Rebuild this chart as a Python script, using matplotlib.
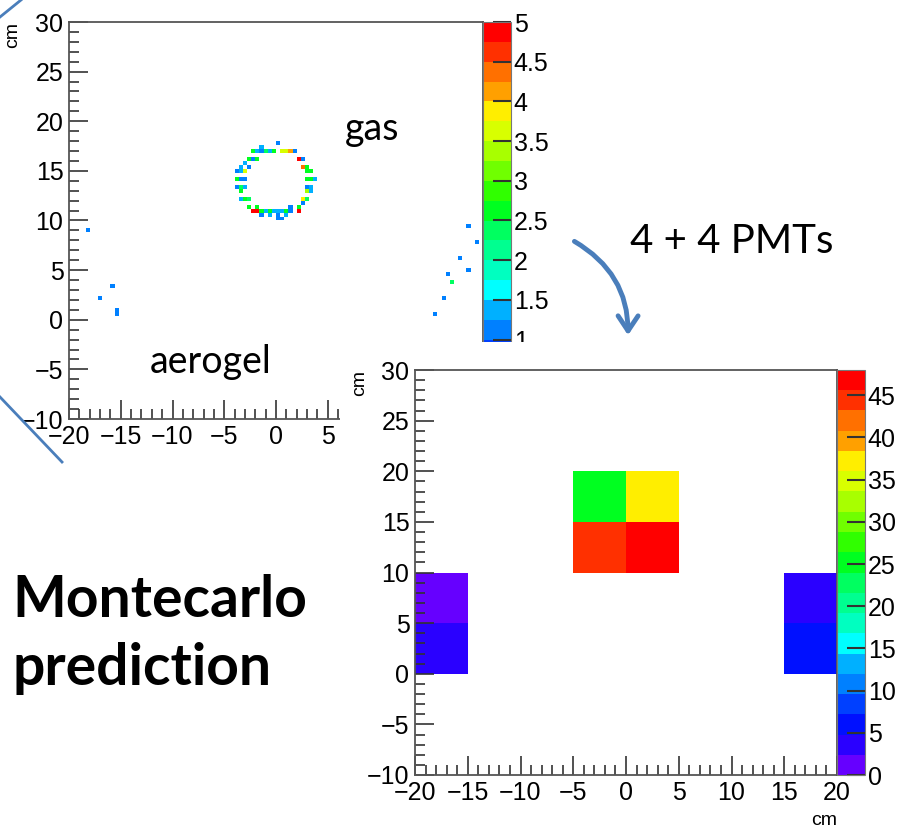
import numpy as np
import matplotlib
matplotlib.use('Agg')
import matplotlib.pyplot as plt
from matplotlib.colors import ListedColormap, BoundaryNorm
from matplotlib.ticker import MultipleLocator, FuncFormatter
from matplotlib.patches import FancyArrowPatch
from matplotlib.lines import Line2D

plt.rcParams['font.family'] = ['Liberation Sans', 'DejaVu Sans']

# ROOT-like palette, 20 bands, bottom -> top
palette = ['#6600ff', '#2a00ff', '#0010ff', '#0040ff', '#0080ff',
           '#00b0ff', '#00ffff', '#00ffc0', '#00ff90', '#00ff60',
           '#00ff20', '#30ff00', '#70ff00', '#a8ff00', '#d8ff00',
           '#ffee00', '#ffa000', '#ff7000', '#ff3000', '#ff0000']
cmap = ListedColormap(palette)

# --- simulated hits (top plot): cell centre x, y [cm] and content
ring_x = [-1.4, -1.0, -0.6, -0.2, 0.2, 0.6, 1.0, 1.4,
          -1.8, -2.2, -2.2, -2.6, -2.9, -3.0,
          -3.3, -3.4, -3.6, -3.4, -3.4, -3.2, -3.0, -3.2, -3.6,
          -2.8, -2.6, -2.3, -2.0, -1.6, -1.2, -0.8,
          -0.4, 0.0, 0.4, 0.2, 0.8, 1.2,
          1.6, 2.0, 2.4, 2.6, 2.8, 3.0, 3.2,
          3.4, 3.4, 3.6, 3.2, 3.4, 3.0, 2.8,
          2.6, 2.2, 1.8, 2.0,
          -0.2, 0.6, -1.4, 1.0,
          -1.8, -2.6, -2.6, -3.0,
          -3.0, -3.0, -3.8, -3.8, -3.4,
          -2.4, -2.0, -1.6, -1.2, -0.6,
          0.6, -0.2, 1.0, 1.4,
          2.0, 2.2, 2.8, 3.2, 3.4,
          3.0, 3.8, 3.0, 3.6, 3.2,
          2.4, 1.6, 2.2]
ring_y = [17.0, 17.2, 17.2, 17.2, 17.6, 17.2, 17.2, 16.9,
          16.8, 16.4, 16.8, 16.0, 15.7, 15.2,
          14.8, 14.4, 14.0, 13.6, 13.2, 12.8, 12.4, 15.6, 14.4,
          12.0, 11.6, 11.2, 11.0, 10.8, 11.0, 10.8,
          10.6, 10.4, 10.6, 10.8, 10.8, 11.0,
          11.2, 11.2, 11.6, 12.0, 12.4, 12.8, 13.2,
          13.6, 14.0, 14.4, 14.8, 15.2, 15.6, 15.4,
          16.0, 16.4, 16.8, 16.4,
          16.8, 16.8, 17.4, 16.8,
          16.4, 16.4, 15.6, 14.8,
          14.0, 13.6, 13.6, 14.8, 12.4,
          12.0, 11.6, 11.2, 10.6, 11.0,
          10.4, 10.8, 10.6, 11.4,
          11.6, 11.2, 11.8, 12.4, 12.8,
          13.6, 14.0, 14.4, 15.2, 15.6,
          16.4, 17.0, 16.0]
ring_v = [1.2, 2.4, 1.3, 1.4, 1.2, 2.6, 1.3, 2.8,
          1.3, 1.2, 2.6, 1.2, 1.4, 1.2,
          1.3, 1.1, 1.2, 2.4, 1.3, 1.2, 2.7, 1.3, 1.3,
          1.2, 2.5, 4.9, 1.3, 2.8, 2.5, 1.4,
          1.3, 1.2, 1.1, 1.3, 1.3, 2.6,
          1.2, 4.8, 1.4, 2.5, 1.3, 2.2, 1.2,
          1.3, 1.2, 1.4, 2.5, 1.3, 1.2, 4.3,
          1.2, 1.3, 1.2, 2.5,
          1.2, 1.1, 1.3, 2.3,
          2.5, 1.3, 1.2, 2.3,
          1.2, 1.3, 1.2, 1.2, 1.3,
          1.2, 2.6, 1.3, 1.2, 2.5,
          1.2, 1.3, 1.3, 1.2,
          1.3, 1.3, 1.2, 2.4, 1.3,
          1.2, 1.3, 2.6, 1.2, 1.4,
          1.2, 1.3, 2.5]
aero_x = [-18.4, -17.2, -15.9, -15.4, -15.4,
          18.5, 19.4, 17.9, 18.5, 16.7, 17.1, 16.1, 15.5]
aero_y = [9.0, 2.3, 3.5, 1.1, 0.6,
          9.3, 7.8, 6.2, 5.0, 4.7, 3.8, 2.0, 0.6]
aero_v = [1.1, 1.1, 1.1, 1.1, 1.1,
          1.1, 1.1, 1.1, 1.1, 1.1, 2.3, 1.1, 1.1]

# --- PMT response (bottom plot): 5 cm cells
pmt_x = [-2.5, 2.5, -2.5, 2.5, -17.5, -17.5, 17.5, 17.5]
pmt_y = [17.5, 17.5, 12.5, 12.5, 7.5, 2.5, 7.5, 2.5]
pmt_v = [25.0, 37.0, 44.5, 47.0, 1.5, 3.5, 3.8, 5.5]

W, H = 901, 830
fig = plt.figure(figsize=(W / 100, H / 100), dpi=100)
fig.patch.set_facecolor('white')


def box(l, t, r, b):
    return [l / W, 1 - b / H, (r - l) / W, (b - t) / H]


def style_axes(ax):
    ax.set_xlim(-20, 20)
    ax.set_ylim(-10, 30)
    ax.xaxis.set_major_locator(MultipleLocator(5))
    ax.xaxis.set_minor_locator(MultipleLocator(1))
    ax.yaxis.set_major_locator(MultipleLocator(5))
    ax.yaxis.set_minor_locator(MultipleLocator(1))
    ax.tick_params(which='both', direction='in', top=False, right=False,
                   color='#333333', width=1.2, labelsize=18, pad=4)
    ax.tick_params(which='major', length=14)
    ax.tick_params(which='minor', length=7)
    for s in ax.spines.values():
        s.set_color('#555555')
        s.set_linewidth(1.3)


def style_cbar(cb, step):
    cb.set_ticks(np.arange(0, cb.norm.vmax + 1e-9, step))
    cb.ax.tick_params(direction='in', length=13, width=1.5, color='#333333',
                      labelsize=18, pad=2)
    cb.ax.minorticks_off()
    cb.outline.set_edgecolor('#777777')
    cb.outline.set_linewidth(0.8)


# top histogram (0.4 cm bins)
xe1 = np.linspace(-20, 20, 101)
ye1 = np.linspace(-10, 30, 101)
h1, _, _ = np.histogram2d(ring_x + aero_x, ring_y + aero_y, bins=[xe1, ye1],
                          weights=ring_v + aero_v)
ax1 = fig.add_axes(box(69, 22, 483, 419), zorder=1)
norm1 = BoundaryNorm(np.linspace(0, 5, 21), 20)
m1 = ax1.pcolormesh(xe1, ye1, np.ma.masked_equal(h1.T, 0), cmap=cmap,
                    norm=norm1)
style_axes(ax1)
# labels right of 5 cm sit under the second picture
ax1.xaxis.set_major_formatter(FuncFormatter(
    lambda v, p: '' if v > 5 else ('%g' % v).replace('-', '\u2212')))
ax1.set_ylabel('cm', loc='top', fontsize=14)
ax1.yaxis.set_label_coords(-0.115, 1.0)
cax1 = fig.add_axes(box(483, 22, 511, 419), zorder=1)
cb1 = fig.colorbar(m1, cax=cax1)
style_cbar(cb1, 0.5)
cb1.set_ticklabels(['' if t < 1 else '%g' % t
                    for t in np.arange(0, 5.01, 0.5)])

# white panel of the pasted second picture
cover = fig.add_axes(box(340, 342, W, H), zorder=2)
cover.set_facecolor('white')
cover.set_xticks([])
cover.set_yticks([])
for s in cover.spines.values():
    s.set_visible(False)

# bottom histogram (5 cm bins)
xe2 = np.linspace(-20, 20, 9)
ye2 = np.linspace(-10, 30, 9)
h2, _, _ = np.histogram2d(pmt_x, pmt_y, bins=[xe2, ye2], weights=pmt_v)
ax2 = fig.add_axes(box(415, 370, 837, 775), zorder=3)
norm2 = BoundaryNorm(np.linspace(0, 48, 21), 20)
m2 = ax2.pcolormesh(xe2, ye2, np.ma.masked_equal(h2.T, 0), cmap=cmap,
                    norm=norm2)
style_axes(ax2)
ax2.set_ylabel('cm', loc='top', fontsize=14)
ax2.yaxis.set_label_coords(-0.111, 1.0)
ax2.set_xlabel('cm', loc='right', fontsize=14)
ax2.xaxis.set_label_coords(1.0, -0.092)
cax2 = fig.add_axes(box(837, 370, 865, 775), zorder=3)
cb2 = fig.colorbar(m2, cax=cax2)
style_cbar(cb2, 5)

# slide annotations
slide_font = ['Lato', 'DejaVu Sans']
fig.text(345 / W, 1 - 140 / H, 'gas', fontsize=27, family=slide_font,
         zorder=10)
fig.text(150 / W, 1 - 373 / H, 'aerogel', fontsize=27, family=slide_font,
         zorder=10)
fig.text(630 / W, 1 - 253 / H, '4 + 4 PMTs', fontsize=29, family=slide_font,
         zorder=10)
fig.text(12 / W, 1 - 617 / H, 'Montecarlo', fontsize=41, family=slide_font,
         fontweight='bold', zorder=10)
fig.text(12 / W, 1 - 685 / H, 'prediction', fontsize=41, family=slide_font,
         fontweight='bold', zorder=10)

blue = '#4a7ebb'
arrow = FancyArrowPatch((572 / W, 1 - 240 / H), (628 / W, 1 - 338 / H),
                        transform=fig.transFigure,
                        connectionstyle='arc3,rad=-0.3',
                        arrowstyle='->,head_length=0.9,head_width=0.6',
                        mutation_scale=12, color=blue, lw=3.5, zorder=10)
fig.patches.append(arrow)

fig.lines.append(Line2D([0, 21 / W], [1 - 17 / H, 1], transform=fig.transFigure,
                        color=blue, lw=2, zorder=10))
fig.lines.append(Line2D([0, 62 / W], [1 - 397 / H, 1 - 462 / H],
                        transform=fig.transFigure, color=blue, lw=2,
                        zorder=10))

fig.savefig('out.png', dpi=100)
